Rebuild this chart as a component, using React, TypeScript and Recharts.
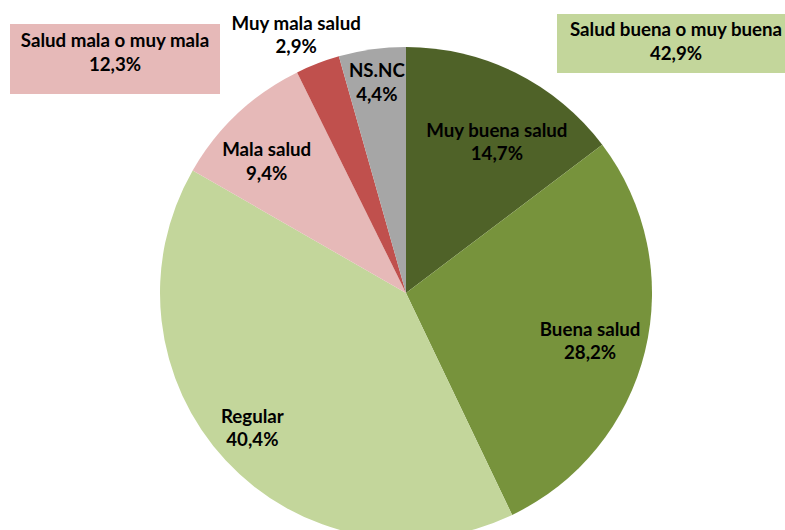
import { PieChart, Pie, Cell } from "recharts";

// slice order: clockwise from 12 o'clock
const categories = ["Muy buena salud", "Buena salud", "Regular", "Mala salud", "Muy mala salud", "NS.NC"];
const values = [14.7, 28.2, 40.4, 9.4, 2.9, 4.4];
const colors = ["#4F6228", "#77933C", "#C3D69B", "#E6B9B8", "#C0504D", "#A6A6A6"];

const data = categories.map((name, i) => ({ name, value: values[i] }));

const fmt = (v: number) => v.toFixed(1).replace(".", ",") + "%";

const goodTotal = values[0] + values[1];
const badTotal = values[3] + values[4];

const FONT = "Lato, 'Open Sans', sans-serif";
const FS = 18.7;

// label placement: share of the radius, and a small turn off the slice's mid angle
const labelPos: Record<string, [number, number]> = {
  "Muy buena salud": [0.694, -5.7],
  "Buena salud": [0.78, -2.7],
  Regular: [0.849, -0.2],
  "Mala salud": [0.761, 4.9],
  "Muy mala salud": [1.117, 2.5],
  "NS.NC": [0.839, 0.2],
};

const RADIAN = Math.PI / 180;

function renderLabel(props: any) {
  const { cx, cy, midAngle, outerRadius, name, value } = props;
  const [k, turn] = labelPos[name] ?? [0.7, 0];
  const r = outerRadius * k;
  const a = (midAngle + turn) * RADIAN;
  const x = cx + r * Math.cos(-a);
  const y = cy + r * Math.sin(-a);
  return (
    <text
      x={x}
      y={y}
      textAnchor="middle"
      fill="#000"
      fontFamily={FONT}
      fontWeight="bold"
      fontSize={FS}
    >
      <tspan x={x} dy={-11.5}>{name}</tspan>
      <tspan x={x} dy={23.5}>{fmt(value)}</tspan>
    </text>
  );
}

const boxStyle = {
  position: "absolute" as const,
  display: "flex",
  flexDirection: "column" as const,
  alignItems: "center",
  justifyContent: "flex-start",
  boxSizing: "border-box" as const,
  fontFamily: FONT,
  fontWeight: "bold" as const,
  fontSize: FS,
  lineHeight: "23.5px",
  color: "#000",
};

export default function App() {
  return (
    <div style={{ position: "absolute", left: 0, top: 0, width: 785, height: 530, background: "#fff", overflow: "hidden" }}>
      <PieChart width={785} height={530}>
        <Pie
          data={data}
          dataKey="value"
          nameKey="name"
          cx={401}
          cy={288}
          outerRadius={246}
          startAngle={90}
          endAngle={-270}
          stroke="none"
          label={renderLabel}
          labelLine={false}
          isAnimationActive={false}
        >
          {data.map((d, i) => (
            <Cell key={d.name} fill={colors[i]} />
          ))}
        </Pie>
      </PieChart>
      <div style={{ ...boxStyle, left: 10, top: 24, width: 210, height: 70, paddingTop: 5, background: "#E6B9B8" }}>
        <span>Salud mala o muy mala</span>
        <span>{fmt(badTotal)}</span>
      </div>
      <div style={{ ...boxStyle, left: 557, top: 14, width: 238, height: 59, paddingTop: 4, background: "#C3D69B" }}>
        <span>Salud buena o muy buena</span>
        <span>{fmt(goodTotal)}</span>
      </div>
    </div>
  );
}
